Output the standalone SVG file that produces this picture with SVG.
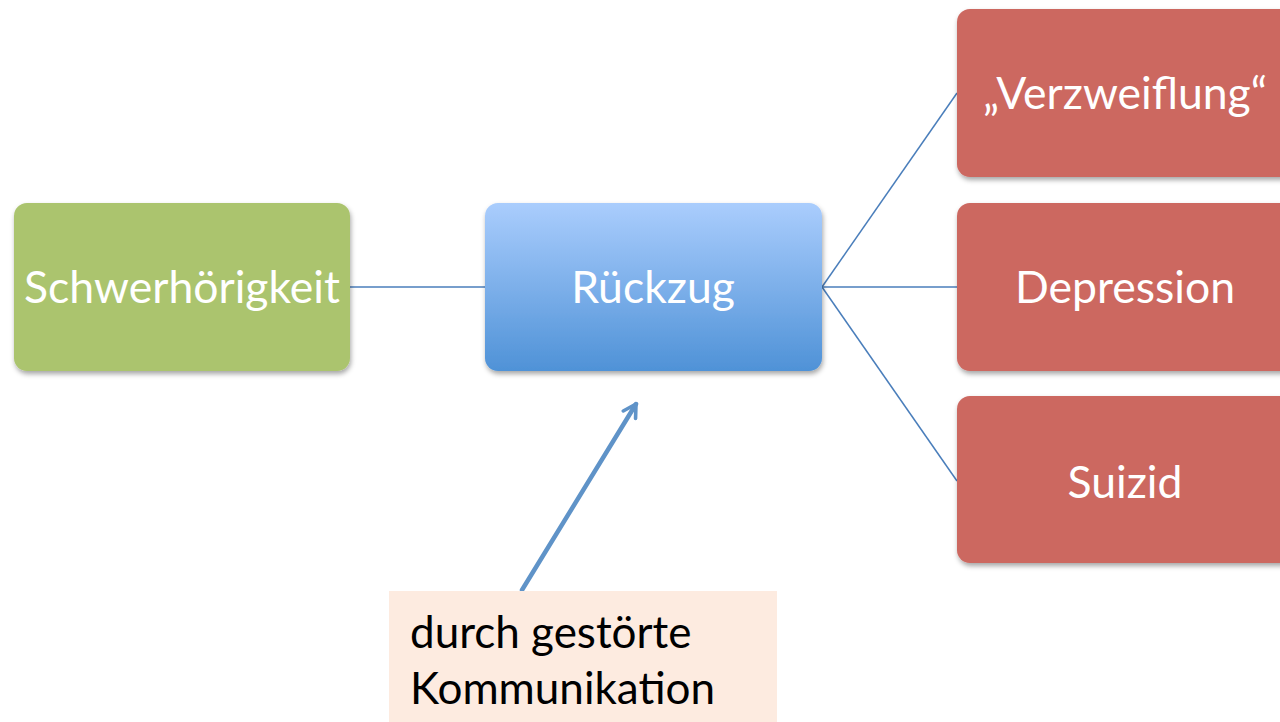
<svg xmlns="http://www.w3.org/2000/svg" width="1280" height="722" viewBox="0 0 1280 722">
  <defs>
    <linearGradient id="blueFill" x1="0" y1="0" x2="0" y2="1">
      <stop offset="0" stop-color="#aacdfd"/>
      <stop offset="1" stop-color="#4f92d7"/>
    </linearGradient>
    <filter id="shadow" x="-10%" y="-10%" width="125%" height="135%">
      <feDropShadow dx="1" dy="3" stdDeviation="2.5" flood-color="#000" flood-opacity="0.35"/>
    </filter>
    <marker id="arrowHead" viewBox="0 0 10 10" refX="8" refY="5" markerWidth="4" markerHeight="4" orient="auto" markerUnits="strokeWidth">
      <path d="M1,1 L8,5 L1,9" fill="none" stroke="#5f93c8" stroke-width="2" stroke-linecap="round" stroke-linejoin="round"/>
    </marker>
  </defs>
  <style>
    .box { filter: url(#shadow); }
    .label { font-family: Lato, "Open Sans", sans-serif; font-size: 44.5px; fill: #ffffff; text-anchor: middle; }
    .note { font-family: Lato, "Open Sans", sans-serif; font-size: 44px; fill: #000000; }
    .link { stroke: #4a7ebb; stroke-width: 1.5; fill: none; }
  </style>
  <rect width="1280" height="722" fill="#ffffff"/>

  <g id="connectors">
    <line class="link" x1="350" y1="287" x2="485" y2="287"/>
    <line class="link" x1="822" y1="287" x2="957" y2="93"/>
    <line class="link" x1="822" y1="287" x2="957" y2="287"/>
    <line class="link" x1="822" y1="287" x2="957" y2="481"/>
    <line x1="522" y1="590" x2="636" y2="404" stroke="#5f93c8" stroke-width="4.5" stroke-linecap="round" marker-end="url(#arrowHead)"/>
  </g>

  <g id="schwerhoerigkeit">
    <rect class="box" x="14" y="203" width="336" height="168" rx="13" fill="#abc46e"/>
    <text class="label" x="182" y="303">Schwerhörigkeit</text>
  </g>

  <g id="rueckzug">
    <rect class="box" x="485" y="203" width="337" height="168" rx="13" fill="url(#blueFill)"/>
    <text class="label" x="653" y="303">Rückzug</text>
  </g>

  <g id="verzweiflung">
    <rect class="box" x="957" y="9" width="337" height="168" rx="13" fill="#cc6760"/>
    <text class="label" x="1125" y="109">„Verzweiflung“</text>
  </g>

  <g id="depression">
    <rect class="box" x="957" y="203" width="337" height="168" rx="13" fill="#cc6760"/>
    <text class="label" x="1125" y="303">Depression</text>
  </g>

  <g id="suizid">
    <rect class="box" x="957" y="396" width="337" height="167" rx="13" fill="#cc6760"/>
    <text class="label" x="1125" y="498">Suizid</text>
  </g>

  <g id="note">
    <rect x="389" y="591" width="388" height="131" fill="#fdebe0"/>
    <text class="note" x="410" y="648">durch gestörte</text>
    <text class="note" x="410" y="704">Kommunikation</text>
  </g>
</svg>
